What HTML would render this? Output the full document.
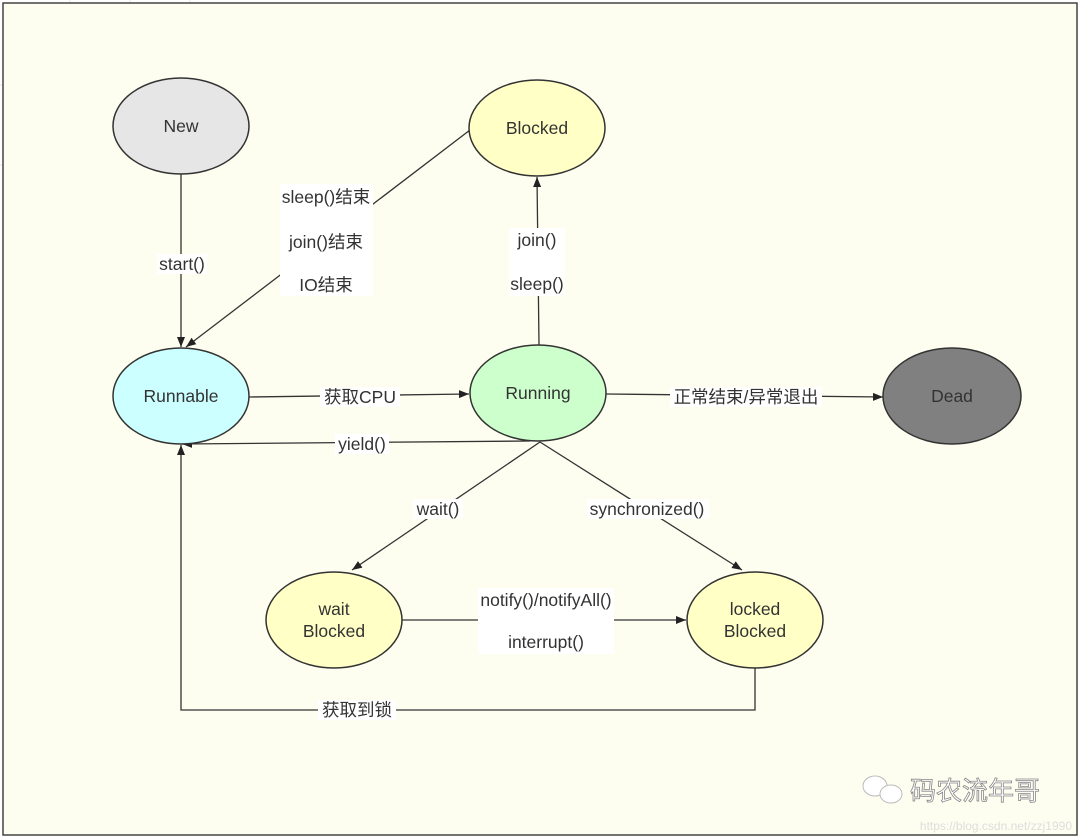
<!DOCTYPE html>
<html><head><meta charset="utf-8"><style>
body{margin:0;background:#fff;}
svg{display:block;font-family:"Liberation Sans","Noto Sans CJK SC",sans-serif;}
</style></head><body>
<svg width="1080" height="840" viewBox="0 0 1080 840" xmlns="http://www.w3.org/2000/svg">
<defs>
<marker id="a" viewBox="0 0 10 10" refX="10" refY="5" markerWidth="10" markerHeight="10" markerUnits="userSpaceOnUse" orient="auto"><path d="M0,1 L10,5 L0,9 z" fill="#222"/></marker>
</defs>
<g stroke="#e6e6e6" stroke-width="1">
<line x1="70" y1="0" x2="70" y2="3"/><line x1="130" y1="0" x2="130" y2="3"/><line x1="190" y1="0" x2="190" y2="3"/>
<line x1="0" y1="85" x2="3" y2="85"/><line x1="0" y1="165" x2="3" y2="165"/>
</g>
<rect x="3" y="3" width="1074" height="832" fill="#fefef0" stroke="#444" stroke-width="1.5"/>
<g stroke="#333" stroke-width="1.3" fill="none">
<line x1="181" y1="174" x2="181" y2="347" marker-end="url(#a)"/>
<line x1="470" y1="130" x2="186" y2="347" marker-end="url(#a)"/>
<line x1="539" y1="345" x2="537" y2="177" marker-end="url(#a)"/>
<line x1="249" y1="397" x2="469" y2="394" marker-end="url(#a)"/>
<line x1="606" y1="394" x2="883" y2="397" marker-end="url(#a)"/>
<line x1="530" y1="441" x2="182" y2="444" marker-end="url(#a)"/>
<line x1="540" y1="442" x2="352" y2="570" marker-end="url(#a)"/>
<line x1="540" y1="442" x2="742" y2="570" marker-end="url(#a)"/>
<line x1="402" y1="620" x2="686" y2="620" marker-end="url(#a)"/>
<polyline points="755,668 755,710 181,710 181,445" marker-end="url(#a)"/>
</g>
<g stroke="#333" stroke-width="1.5">
<ellipse cx="181" cy="126" rx="68" ry="48" fill="#e6e6e6"/>
<ellipse cx="537" cy="128" rx="68" ry="48" fill="#ffffc6"/>
<ellipse cx="181" cy="396" rx="68" ry="48" fill="#ccffff"/>
<ellipse cx="538" cy="393" rx="68" ry="48" fill="#ccffcc"/>
<ellipse cx="952" cy="396" rx="69" ry="48" fill="#808080"/>
<ellipse cx="334" cy="620" rx="68" ry="48" fill="#ffffc6"/>
<ellipse cx="755" cy="620" rx="68" ry="48" fill="#ffffc6"/>
</g>
<g fill="#333" font-size="17.5" text-anchor="middle">
<text x="181" y="132">New</text>
<text x="537" y="134">Blocked</text>
<text x="181" y="402">Runnable</text>
<text x="538" y="399">Running</text>
<text x="952" y="402">Dead</text>
<text x="334" y="615">wait</text><text x="334" y="637">Blocked</text>
<text x="755" y="615">locked</text><text x="755" y="637">Blocked</text>
</g>
<g fill="#fff">
<rect x="157" y="254" width="50" height="20"/>
<rect x="280" y="184" width="93" height="112"/>
<rect x="509" y="228" width="56" height="68"/>
<rect x="320" y="387" width="80" height="20"/>
<rect x="670" y="387" width="152" height="20"/>
<rect x="335" y="434" width="54" height="20"/>
<rect x="413" y="499" width="50" height="20"/>
<rect x="587" y="499" width="122" height="20"/>
<rect x="478" y="588" width="136" height="66"/>
<rect x="318" y="700" width="78" height="20"/>
</g>
<g fill="#333" font-size="17.5" text-anchor="middle">
<text x="182" y="270">start()</text>
<text x="326" y="203">sleep()结束</text>
<text x="326" y="248">join()结束</text>
<text x="326" y="291">IO结束</text>
<text x="537" y="246">join()</text>
<text x="537" y="290">sleep()</text>
<text x="360" y="403">获取CPU</text>
<text x="746" y="403">正常结束/异常退出</text>
<text x="362" y="450">yield()</text>
<text x="438" y="515">wait()</text>
<text x="647" y="515">synchronized()</text>
<text x="546" y="606">notify()/notifyAll()</text>
<text x="546" y="648">interrupt()</text>
<text x="357" y="716">获取到锁</text>
</g>
<g fill="#fff" stroke="#bbb" stroke-width="1">
<ellipse cx="875" cy="786" rx="12" ry="10"/>
<ellipse cx="891" cy="794" rx="11" ry="9"/>
</g>
<text x="975" y="800" font-size="26" fill="#fff" stroke="#888" stroke-width="0.8" text-anchor="middle" font-family="'Noto Sans CJK SC',sans-serif">码农流年哥</text>
<text x="1072" y="830" font-size="12" fill="#ddd" text-anchor="end">https://blog.csdn.net/zzj1990</text>
</svg>
</body></html>
